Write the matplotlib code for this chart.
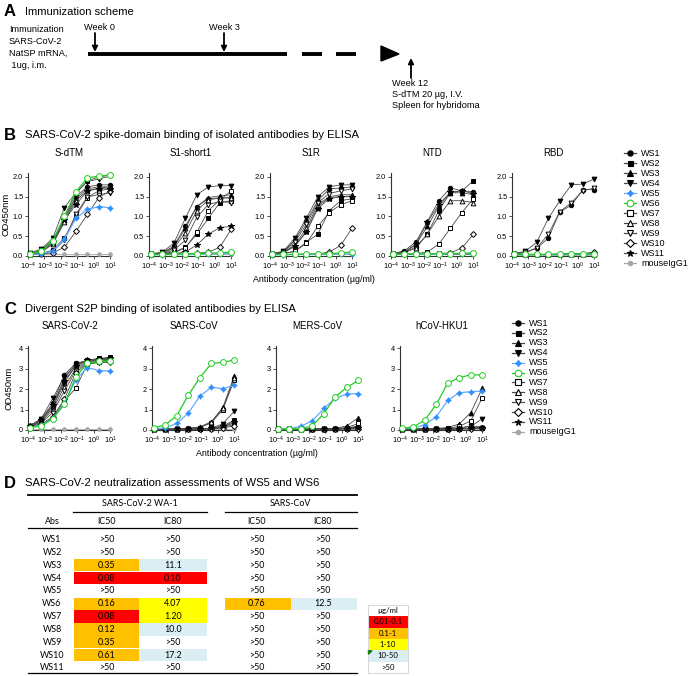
"""
Antibody binding / neutralization figure: immunization scheme, ELISA binding
curves against spike domains and divergent S2P proteins, and IC50/IC80 table.
"""

import matplotlib
matplotlib.use("Agg")
import matplotlib.pyplot as plt
from matplotlib.patches import Polygon, Rectangle

plt.rcParams["font.family"] = ["Liberation Sans", "DejaVu Sans"]
plt.rcParams["mathtext.default"] = "regular"

W, H = 688, 676

# ---- data -----------------------------------------------------------------
SERIES = ["WS1", "WS2", "WS3", "WS4", "WS5", "WS6", "WS7", "WS8", "WS9",
          "WS10", "WS11", "mouseIgG1"]
CONC = [1.28e-4, 6.4e-4, 3.2e-3, 1.6e-2, 8e-2, 0.4, 2.0, 10.0]  # ug/ml

# Panel B (rows follow SERIES)
SDTM = [
    [0.06, 0.15, 0.40, 0.95, 1.50, 1.75, 1.80, 1.80],
    [0.05, 0.12, 0.38, 0.97, 1.58, 1.90, 2.00, 2.05],
    [0.05, 0.13, 0.35, 0.90, 1.45, 1.70, 1.75, 1.75],
    [0.07, 0.18, 0.45, 1.22, 1.60, 1.88, 1.95, 2.02],
    [0.04, 0.05, 0.13, 0.42, 0.95, 1.18, 1.25, 1.22],
    [0.05, 0.12, 0.38, 1.00, 1.62, 1.98, 2.02, 2.05],
    [0.05, 0.06, 0.15, 0.45, 1.00, 1.48, 1.65, 1.70],
    [0.05, 0.10, 0.30, 0.85, 1.40, 1.65, 1.72, 1.75],
    [0.04, 0.06, 0.12, 0.40, 1.05, 1.50, 1.55, 1.60],
    [0.04, 0.05, 0.08, 0.22, 0.62, 1.05, 1.48, 1.65],
    [0.05, 0.11, 0.32, 0.90, 1.30, 1.65, 1.70, 1.70],
    [0.05, 0.05, 0.05, 0.05, 0.05, 0.05, 0.05, 0.05],
]
S1SHORT = [
    [0.05, 0.08, 0.25, 0.75, 1.25, 1.45, 1.47, 1.47],
    [0.05, 0.06, 0.10, 0.22, 0.55, 0.95, 1.35, 1.40],
    [0.05, 0.08, 0.22, 0.70, 1.25, 1.48, 1.52, 1.55],
    [0.05, 0.10, 0.32, 0.95, 1.55, 1.75, 1.78, 1.78],
    [0.03, 0.03, 0.04, 0.04, 0.04, 0.05, 0.05, 0.07],
    [0.04, 0.04, 0.04, 0.05, 0.06, 0.07, 0.08, 0.10],
    [0.05, 0.05, 0.08, 0.20, 0.60, 1.15, 1.42, 1.65],
    [0.05, 0.07, 0.20, 0.58, 1.15, 1.42, 1.47, 1.47],
    [0.05, 0.06, 0.15, 0.40, 0.98, 1.30, 1.38, 1.35],
    [0.04, 0.04, 0.05, 0.05, 0.07, 0.10, 0.22, 0.68],
    [0.04, 0.05, 0.06, 0.10, 0.28, 0.55, 0.72, 0.75],
    [0.04, 0.04, 0.04, 0.04, 0.04, 0.04, 0.04, 0.04],
]
S1R = [
    [0.06, 0.10, 0.40, 0.88, 1.40, 1.70, 1.72, 1.75],
    [0.05, 0.06, 0.12, 0.35, 0.55, 1.15, 1.40, 1.45],
    [0.05, 0.08, 0.25, 0.62, 1.25, 1.48, 1.50, 1.52],
    [0.06, 0.12, 0.45, 0.95, 1.50, 1.75, 1.80, 1.80],
    [0.03, 0.03, 0.04, 0.04, 0.04, 0.05, 0.05, 0.05],
    [0.04, 0.04, 0.04, 0.05, 0.05, 0.06, 0.08, 0.10],
    [0.05, 0.06, 0.12, 0.32, 0.75, 1.10, 1.30, 1.40],
    [0.05, 0.09, 0.28, 0.70, 1.30, 1.50, 1.55, 1.55],
    [0.05, 0.10, 0.35, 0.80, 1.35, 1.58, 1.65, 1.70],
    [0.04, 0.04, 0.04, 0.05, 0.05, 0.10, 0.27, 0.72],
    [0.05, 0.08, 0.25, 0.60, 1.20, 1.45, 1.50, 1.50],
    [0.04, 0.04, 0.04, 0.04, 0.04, 0.04, 0.04, 0.04],
]
NTD = [
    [0.06, 0.13, 0.35, 0.87, 1.40, 1.72, 1.65, 1.62],
    [0.05, 0.10, 0.22, 0.55, 1.15, 1.60, 1.65, 1.90],
    [0.05, 0.10, 0.28, 0.75, 1.25, 1.60, 1.60, 1.55],
    [0.04, 0.04, 0.04, 0.04, 0.04, 0.04, 0.04, 0.05],
    [0.04, 0.04, 0.04, 0.04, 0.04, 0.05, 0.05, 0.06],
    [0.04, 0.04, 0.05, 0.05, 0.05, 0.06, 0.07, 0.08],
    [0.04, 0.05, 0.06, 0.10, 0.30, 0.70, 1.10, 1.45],
    [0.05, 0.08, 0.20, 0.55, 1.00, 1.40, 1.40, 1.35],
    [0.04, 0.04, 0.04, 0.04, 0.04, 0.05, 0.05, 0.05],
    [0.04, 0.04, 0.04, 0.05, 0.06, 0.08, 0.20, 0.55],
    [0.05, 0.10, 0.30, 0.85, 1.30, 1.62, 1.65, 1.58],
    [0.04, 0.04, 0.04, 0.04, 0.04, 0.04, 0.04, 0.04],
]
RBD = [
    [0.05, 0.08, 0.20, 0.45, 1.12, 1.28, 1.68, 1.68],
    [0.04, 0.04, 0.04, 0.04, 0.04, 0.04, 0.05, 0.05],
    [0.04, 0.04, 0.04, 0.04, 0.05, 0.05, 0.05, 0.06],
    [0.06, 0.12, 0.35, 0.95, 1.40, 1.80, 1.82, 1.95],
    [0.03, 0.03, 0.04, 0.04, 0.04, 0.04, 0.04, 0.05],
    [0.04, 0.04, 0.04, 0.04, 0.04, 0.05, 0.05, 0.06],
    [0.04, 0.04, 0.04, 0.04, 0.04, 0.05, 0.06, 0.07],
    [0.04, 0.04, 0.04, 0.04, 0.04, 0.05, 0.05, 0.06],
    [0.05, 0.10, 0.20, 0.55, 1.12, 1.35, 1.65, 1.72],
    [0.04, 0.04, 0.04, 0.04, 0.05, 0.05, 0.06, 0.10],
    [0.04, 0.04, 0.04, 0.04, 0.04, 0.05, 0.05, 0.05],
    [0.03, 0.03, 0.03, 0.03, 0.03, 0.03, 0.03, 0.03],
]

# Panel C
COV2 = [
    [0.20, 0.55, 1.30, 2.70, 3.25, 3.40, 3.45, 3.45],
    [0.15, 0.45, 1.10, 2.30, 3.15, 3.40, 3.50, 3.55],
    [0.18, 0.50, 1.20, 2.50, 3.20, 3.40, 3.45, 3.50],
    [0.20, 0.55, 1.55, 2.60, 3.20, 3.35, 3.40, 3.40],
    [0.12, 0.25, 0.55, 1.30, 2.45, 3.05, 2.90, 2.88],
    [0.12, 0.20, 0.55, 1.25, 2.60, 3.25, 3.35, 3.38],
    [0.10, 0.25, 0.60, 1.40, 2.05, 3.20, 3.30, 3.35],
    [0.15, 0.40, 1.00, 2.10, 3.00, 3.35, 3.40, 3.45],
    [0.12, 0.35, 0.85, 1.90, 2.90, 3.30, 3.35, 3.40],
    [0.10, 0.28, 0.65, 1.50, 2.80, 3.25, 3.30, 3.30],
    [0.18, 0.50, 1.20, 2.40, 3.10, 3.40, 3.45, 3.50],
    [0.05, 0.05, 0.05, 0.05, 0.05, 0.05, 0.05, 0.05],
]
SCOV = [
    [0.03, 0.03, 0.04, 0.04, 0.05, 0.07, 0.15, 0.35],
    [0.03, 0.03, 0.04, 0.04, 0.05, 0.08, 0.20, 0.48],
    [0.04, 0.04, 0.05, 0.08, 0.15, 0.40, 1.10, 2.65],
    [0.03, 0.03, 0.04, 0.04, 0.05, 0.10, 0.30, 0.92],
    [0.05, 0.10, 0.32, 0.82, 1.65, 2.08, 2.02, 2.18],
    [0.10, 0.25, 0.70, 1.70, 2.55, 3.25, 3.30, 3.42],
    [0.04, 0.04, 0.05, 0.06, 0.12, 0.35, 1.00, 2.45],
    [0.04, 0.04, 0.05, 0.07, 0.13, 0.38, 1.05, 2.55],
    [0.03, 0.03, 0.04, 0.04, 0.04, 0.06, 0.12, 0.28],
    [0.03, 0.03, 0.03, 0.04, 0.04, 0.05, 0.10, 0.20],
    [0.03, 0.03, 0.04, 0.04, 0.05, 0.08, 0.18, 0.40],
    [0.04, 0.04, 0.04, 0.04, 0.04, 0.04, 0.04, 0.04],
]
MERS = [
    [0.03, 0.03, 0.03, 0.04, 0.04, 0.06, 0.10, 0.20],
    [0.03, 0.03, 0.03, 0.04, 0.04, 0.05, 0.08, 0.12],
    [0.03, 0.03, 0.04, 0.04, 0.05, 0.08, 0.20, 0.60],
    [0.03, 0.03, 0.03, 0.04, 0.04, 0.05, 0.07, 0.10],
    [0.05, 0.06, 0.18, 0.45, 1.05, 1.55, 1.75, 1.78],
    [0.04, 0.05, 0.06, 0.20, 0.80, 1.62, 2.08, 2.42],
    [0.03, 0.03, 0.04, 0.04, 0.05, 0.07, 0.12, 0.32],
    [0.03, 0.03, 0.03, 0.04, 0.04, 0.05, 0.08, 0.15],
    [0.03, 0.03, 0.03, 0.03, 0.04, 0.05, 0.06, 0.08],
    [0.03, 0.03, 0.03, 0.03, 0.04, 0.04, 0.05, 0.06],
    [0.03, 0.03, 0.03, 0.04, 0.04, 0.05, 0.07, 0.10],
    [0.03, 0.03, 0.03, 0.03, 0.03, 0.03, 0.03, 0.03],
]
HKU1 = [
    [0.04, 0.04, 0.04, 0.05, 0.05, 0.06, 0.08, 0.10],
    [0.04, 0.04, 0.04, 0.05, 0.05, 0.06, 0.08, 0.12],
    [0.04, 0.04, 0.05, 0.08, 0.12, 0.30, 0.85, 2.05],
    [0.03, 0.03, 0.04, 0.04, 0.05, 0.08, 0.18, 0.55],
    [0.06, 0.10, 0.25, 0.65, 1.45, 1.82, 1.87, 1.90],
    [0.08, 0.15, 0.48, 1.25, 2.30, 2.55, 2.70, 2.68],
    [0.04, 0.04, 0.05, 0.06, 0.08, 0.18, 0.45, 1.58],
    [0.04, 0.04, 0.04, 0.05, 0.06, 0.10, 0.20, 0.15],
    [0.03, 0.03, 0.04, 0.04, 0.05, 0.06, 0.08, 0.10],
    [0.03, 0.03, 0.04, 0.04, 0.04, 0.05, 0.06, 0.08],
    [0.04, 0.04, 0.04, 0.05, 0.05, 0.06, 0.09, 0.12],
    [0.03, 0.03, 0.03, 0.03, 0.03, 0.03, 0.03, 0.03],
]

B_TITLES = ["S-dTM", "S1-short1", "S1R", "NTD", "RBD"]
C_TITLES = ["SARS-CoV-2", "SARS-CoV", "MERS-CoV", "hCoV-HKU1"]

# Panel D
ABS = ["WS1", "WS2", "WS3", "WS4", "WS5", "WS6", "WS7", "WS8", "WS9", "WS10", "WS11"]
WA1_IC50 = [">50", ">50", "0.35", "0.08", ">50", "0.16", "0.08", "0.12", "0.35", "0.61", ">50"]
WA1_IC80 = [">50", ">50", "11.1", "0.10", ">50", "4.07", "1.20", "10.0", ">50", "17.2", ">50"]
SCOV_IC50 = [">50", ">50", ">50", ">50", ">50", "0.76", ">50", ">50", ">50", ">50", ">50"]
SCOV_IC80 = [">50", ">50", ">50", ">50", ">50", "12.5", ">50", ">50", ">50", ">50", ">50"]
RANGES = ["0.01-0.1", "0.1-1", "1-10", "10-50", ">50"]

# ---- styles ---------------------------------------------------------------
MARKERS = ["o", "s", "^", "v", (4, 1, 0), "o", "s", "^", "v", "D", "*", "o"]
FILLED = [True, True, True, True, True, False, False, False, False, False, True, True]
COLORS = ["black"] * 4 + ["#2E8FFF", "#22CC22"] + ["black"] * 5 + ["#A6A6A6"]
LINE_COLORS = ["#4a4a4a"] * 4 + ["#66AAFF", "#22CC22"] + ["#4a4a4a"] * 5 + ["#A6A6A6"]
MSIZE = [3.2, 3.0, 3.4, 3.4, 4.0, 4.2, 3.2, 3.4, 3.4, 3.0, 4.2, 2.6]
DRAW_ORDER = [11, 0, 1, 2, 3, 6, 7, 8, 9, 10, 4, 5]
RANGE_COLORS = ["#FF0000", "#FFC000", "#FFFF00", "#DAEEF3", "white"]


def cell_color(txt):
    if txt.startswith(">"):
        return "white"
    v = float(txt)
    if v <= 0.1:
        return RANGE_COLORS[0]
    if v < 1:
        return RANGE_COLORS[1]
    if v < 10:
        return RANGE_COLORS[2]
    return RANGE_COLORS[3]


def px_axes(fig, left, top, width, height):
    return fig.add_axes([left / W, 1 - (top + height) / H, width / W, height / H])


def draw_panel(ax, title, data, ymax, yticks, ylabels):
    for i in DRAW_ORDER:
        ax.plot(CONC, data[i], color=LINE_COLORS[i], lw=0.9 if i in (4, 5) else 0.6,
                marker=MARKERS[i], ms=MSIZE[i],
                mfc=COLORS[i] if FILLED[i] else "white", mec=COLORS[i],
                mew=0.7, zorder=3 + DRAW_ORDER.index(i) * 0.1, clip_on=False)
    ax.set_xscale("log")
    ax.set_xlim(1e-4, 10 ** 1.04)
    ax.set_ylim(0, ymax)
    ax.set_xticks([1e-4, 1e-3, 1e-2, 1e-1, 1e0, 1e1])
    ax.set_xticklabels([r"$10^{-4}$", r"$10^{-3}$", r"$10^{-2}$", r"$10^{-1}$",
                        r"$10^{0}$", r"$10^{1}$"])
    ax.minorticks_off()
    ax.set_yticks(yticks)
    ax.set_yticklabels(ylabels)
    for side in ("top", "right"):
        ax.spines[side].set_visible(False)
    for side in ("left", "bottom"):
        ax.spines[side].set_color("#333333")
        ax.spines[side].set_linewidth(0.8)
    ax.tick_params(length=2.5, width=0.6, color="#333333", labelsize=5.3, pad=1)
    ax.set_title(title, fontsize=7, pad=12)


def draw_legend(ax0, x, y0, dy):
    for i, name in enumerate(SERIES):
        y = y0 + i * dy
        ax0.plot([x, x + 12], [y, y], color=LINE_COLORS[i], lw=0.9)
        ax0.plot([x + 6], [y], marker=MARKERS[i], ms=MSIZE[i] + 0.6, color=COLORS[i],
                 mfc=COLORS[i] if FILLED[i] else "white", mec=COLORS[i], mew=0.8)
        ax0.text(x + 17, y, name, fontsize=6.5, va="center", ha="left")


def main() -> None:
    fig = plt.figure(figsize=(W / 100, H / 100), dpi=100)
    ax0 = fig.add_axes([0, 0, 1, 1])
    ax0.set_xlim(0, W)
    ax0.set_ylim(H, 0)
    ax0.axis("off")

    # ---- A: immunization scheme
    ax0.text(4, 12, "A", fontsize=12, fontweight="bold", va="center")
    ax0.text(25, 12, "Immunization scheme", fontsize=8, va="center")
    for k, line in enumerate(["Immunization", "SARS-CoV-2", "NatSP mRNA,", " 1ug, i.m."]):
        ax0.text(9, 29 + k * 12, line, fontsize=6.6, va="center")
    ax0.plot([88, 287], [54, 54], color="black", lw=2.8, solid_capstyle="butt")
    for xa, xb in [(302, 322), (336, 356)]:
        ax0.plot([xa, xb], [54, 54], color="black", lw=2.8, solid_capstyle="butt")
    ax0.add_patch(Polygon([(381, 46), (381, 61), (399, 54)], closed=True, color="black"))
    for xw, lab in [(95, "Week 0"), (224, "Week 3")]:
        ax0.text(xw + (4 if lab == "Week 0" else 0), 28, lab, fontsize=6.6,
                 ha="center", va="center")
        ax0.annotate("", xy=(xw, 52), xytext=(xw, 33),
                     arrowprops=dict(arrowstyle="-|>", lw=1.3, color="black",
                                     mutation_scale=8, shrinkA=0, shrinkB=0))
    ax0.annotate("", xy=(411, 58), xytext=(411, 78),
                 arrowprops=dict(arrowstyle="-|>", lw=1.3, color="black",
                                 mutation_scale=8, shrinkA=0, shrinkB=0))
    for k, line in enumerate(["Week 12", "S-dTM 20 \u00b5g, I.V.", "Spleen for hybridoma"]):
        ax0.text(392, 83 + k * 11.3, line, fontsize=6.6, va="center")

    # ---- B: spike-domain binding
    ax0.text(4, 135, "B", fontsize=12, fontweight="bold", va="center")
    ax0.text(25, 135, "SARS-CoV-2 spike-domain binding of isolated antibodies by ELISA",
             fontsize=8.1, va="center")
    b_data = [SDTM, S1SHORT, S1R, NTD, RBD]
    for k, (title, data) in enumerate(zip(B_TITLES, b_data)):
        ax = px_axes(fig, 28 + k * 121, 173, 83, 83)
        draw_panel(ax, title, data, 2.1, [0, 0.5, 1.0, 1.5, 2.0],
                   ["0.0", "0.5", "1.0", "1.5", "2.0"])
        if k == 0:
            ax.set_ylabel("OD450nm", fontsize=6.8, labelpad=2)
    ax0.text(314, 279, "Antibody concentration (\u00b5g/ml)", fontsize=6.4,
             ha="center", va="center")
    draw_legend(ax0, 624, 153, 10)

    # ---- C: divergent S2P binding
    ax0.text(4, 309, "C", fontsize=12, fontweight="bold", va="center")
    ax0.text(25, 309, "Divergent S2P binding of isolated antibodies by ELISA",
             fontsize=8.1, va="center")
    c_data = [COV2, SCOV, MERS, HKU1]
    for k, (title, data) in enumerate(zip(C_TITLES, c_data)):
        ax = px_axes(fig, 28 + k * 124, 346, 83, 84)
        draw_panel(ax, title, data, 4.1, [0, 1, 2, 3, 4], ["0", "1", "2", "3", "4"])
        if k == 0:
            ax.set_ylabel("OD450nm", fontsize=6.8, labelpad=4)
    ax0.text(257, 454, "Antibody concentration (\u00b5g/ml)", fontsize=6.4,
             ha="center", va="center")
    draw_legend(ax0, 512, 323, 9.9)

    # ---- D: neutralization table
    ax0.text(4, 483, "D", fontsize=12, fontweight="bold", va="center")
    ax0.text(25, 483, "SARS-CoV-2 neutralization assessments of WS5 and WS6",
             fontsize=8.1, va="center")
    tfont = dict(family=["Lato", "DejaVu Sans"], fontsize=6.4, ha="center", va="center")
    ax0.plot([28, 357], [495, 495], color="black", lw=1.3)
    ax0.text(140, 504, "SARS-CoV-2 WA-1", **tfont)
    ax0.text(290, 504, "SARS-CoV", **tfont)
    ax0.plot([73, 207], [512, 512], color="black", lw=0.9)
    ax0.plot([225, 357], [512, 512], color="black", lw=0.9)
    col_x = [52, 107, 173, 257, 323]
    for cx, lab in zip(col_x, ["Abs", "IC50", "IC80", "IC50", "IC80"]):
        ax0.text(cx, 521, lab, **tfont)
    ax0.plot([28, 357], [528, 528], color="black", lw=0.9)
    spans = [(74, 139), (139, 207), (225, 291), (291, 357)]
    step = 12.85
    for r, ab in enumerate(ABS):
        yc = 539.5 + r * step
        ax0.text(col_x[0], yc, ab, **tfont)
        vals = [WA1_IC50[r], WA1_IC80[r], SCOV_IC50[r], SCOV_IC80[r]]
        for (xa, xb), cx, v in zip(spans, col_x[1:], vals):
            c = cell_color(v)
            if c != "white":
                ax0.add_patch(Rectangle((xa, yc - 6.2), xb - xa, 12.4, color=c, lw=0))
            ax0.text(cx, yc, v, **tfont)
    ax0.plot([28, 357], [673, 673], color="black", lw=0.9)

    # colour key
    kx, ky, kw, kh = 368, 605, 40, 11.3
    ax0.text(kx + kw / 2, ky + kh / 2, "\u00b5g/ml", **dict(tfont, fontsize=5.6))
    for k, (lab, c) in enumerate(zip(RANGES, RANGE_COLORS)):
        y = ky + (k + 1) * kh
        ax0.add_patch(Rectangle((kx, y), kw, kh, color=c, lw=0))
        ax0.text(kx + kw / 2, y + kh / 2, lab, **dict(tfont, fontsize=5.6))
    ax0.add_patch(Rectangle((kx, ky), kw, kh * 6, fill=False, ec="#D9D9D9", lw=0.8))
    ax0.add_patch(Polygon([(kx + 0.5, ky + 4 * kh + 0.5), (kx + 4, ky + 4 * kh + 0.5),
                           (kx + 0.5, ky + 4 * kh + 4)], closed=True, color="#108010"))

    fig.savefig("out.png", dpi=100)
    plt.close(fig)


if __name__ == "__main__":
    main()
